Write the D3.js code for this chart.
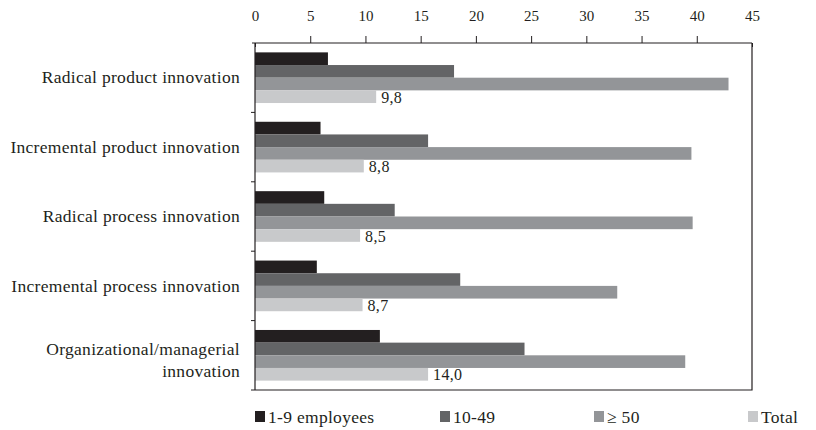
<!DOCTYPE html>
<html>
<head>
<meta charset="utf-8">
<script src="https://cdn.jsdelivr.net/npm/d3@7/dist/d3.min.js"></script>
<style>
  html, body { margin: 0; padding: 0; background: #fff; }
  svg { display: block; }
  text { font-family: "Liberation Serif", "DejaVu Serif", serif; fill: #231f20; }
</style>
</head>
<body>
<div id="chart"></div>
<script>
// Share of firms introducing each type of innovation, by firm size (%)
const categories = [
  ["Radical product innovation"],
  ["Incremental product innovation"],
  ["Radical process innovation"],
  ["Incremental process innovation"],
  ["Organizational/managerial", "innovation"]
];
const seriesNames = ["1-9 employees", "10-49", "\u2265 50", "Total"];
const small  = [5.9, 5.3, 5.6, 5.0, 10.1];
const medium = [16.1, 14.0, 11.3, 16.6, 21.8];
const large  = [38.3, 35.3, 35.4, 29.3, 34.8];
const total  = [9.8, 8.8, 8.5, 8.7, 14.0];
const totalLabels = ["9,8", "8,8", "8,5", "8,7", "14,0"];
const tickValues = [0, 5, 10, 15, 20, 25, 30, 35, 40, 45];

const colors = ["#231f20", "#636466", "#939598", "#c8c9cb"];
const series = [small, medium, large, total];

const width = 816, height = 430;
const margin = { top: 43, right: 64, bottom: 40, left: 255 };
const innerW = width - margin.left - margin.right;
const innerH = height - margin.top - margin.bottom;

const svg = d3.select("#chart").append("svg")
  .attr("width", width).attr("height", height);
const g = svg.append("g").attr("transform", `translate(${margin.left},${margin.top})`);

// Bar length scale and the printed axis scale
const x = d3.scaleLinear().domain([0, 40.2]).range([0, innerW]);
const xAxisScale = d3.scaleLinear().domain([0, 45]).range([0, innerW]);

const y = d3.scaleBand().domain(d3.range(categories.length)).range([0, innerH]).padding(0);
const ySub = d3.scaleBand().domain(d3.range(series.length))
  .range([0, y.bandwidth()]).paddingInner(0).paddingOuter(0.74);

// Bars
const groups = g.selectAll("g.cat").data(categories).join("g")
  .attr("class", "cat")
  .attr("transform", (d, i) => `translate(0,${y(i)})`);

groups.each(function (d, i) {
  const grp = d3.select(this);
  grp.selectAll("rect").data(series.map((s, j) => ({ v: s[i], j }))).join("rect")
    .attr("x", x(0))
    .attr("y", b => ySub(b.j))
    .attr("width", b => x(b.v) - x(0))
    .attr("height", ySub.bandwidth())
    .attr("fill", b => colors[b.j]);
  grp.append("text")
    .attr("x", x(total[i]) + 5)
    .attr("y", ySub(3) + ySub.bandwidth() / 2)
    .attr("dy", "0.38em")
    .style("font-size", "16px")
    .style("letter-spacing", "0.3px")
    .text(totalLabels[i]);
});

// Frame (right and bottom)
g.append("path")
  .attr("d", `M${innerW},0V${innerH}H0`)
  .attr("fill", "none").attr("stroke", "#231f20").attr("stroke-width", 1.2);

// Top axis
const xAxis = g.append("g")
  .call(d3.axisTop(xAxisScale).tickValues(tickValues).tickSize(7).tickPadding(15).tickSizeOuter(0));
xAxis.select(".domain").attr("stroke", "#231f20").attr("stroke-width", 1.2)
  .attr("d", `M-3,0H${innerW}`);
xAxis.selectAll(".tick line").attr("stroke", "#231f20");
xAxis.selectAll(".tick text").style("font-size", "15px")
  .style("font-family", "'Liberation Serif', serif").attr("fill", "#231f20");
// End ticks pass through the axis line
xAxis.selectAll(".tick").filter(d => d === 45 || d === 0).select("line").attr("y2", 4);

// Left axis: line with ticks at category boundaries
g.append("line").attr("x1", 0).attr("x2", 0).attr("y1", 0).attr("y2", innerH)
  .attr("stroke", "#231f20").attr("stroke-width", 1.2);
g.selectAll("line.ytick").data(d3.range(1, categories.length + 1)).join("line")
  .attr("class", "ytick")
  .attr("x1", -4).attr("x2", 0)
  .attr("y1", i => i < categories.length ? y(i) : innerH)
  .attr("y2", i => i < categories.length ? y(i) : innerH)
  .attr("stroke", "#231f20");

// Category labels
g.selectAll("text.cat-label").data(categories).join("text")
  .attr("class", "cat-label")
  .attr("text-anchor", "end")
  .style("font-size", "17.5px")
  .style("letter-spacing", "0.3px")
  .attr("transform", (d, i) => `translate(-15,${y(i) + y.bandwidth() / 2})`)
  .each(function (lines) {
    const t = d3.select(this);
    lines.forEach((line, k) => {
      t.append("tspan").attr("x", 0)
        .attr("dy", lines.length === 1 ? "0.33em" : (k === 0 ? "0em" : "1.25em"))
        .text(line);
    });
  });

// Legend
const legendX = [255, 440, 594, 748];
const legend = svg.append("g").attr("transform", "translate(0,411)");
const items = legend.selectAll("g").data(seriesNames).join("g")
  .attr("transform", (d, i) => `translate(${legendX[i]},0)`);
items.append("rect").attr("width", 10).attr("height", 11).attr("fill", (d, i) => colors[i]);
items.append("text").attr("x", 13).attr("y", 12).style("font-size", "17.5px")
  .style("letter-spacing", "0.3px").text(d => d);
</script>
</body>
</html>
